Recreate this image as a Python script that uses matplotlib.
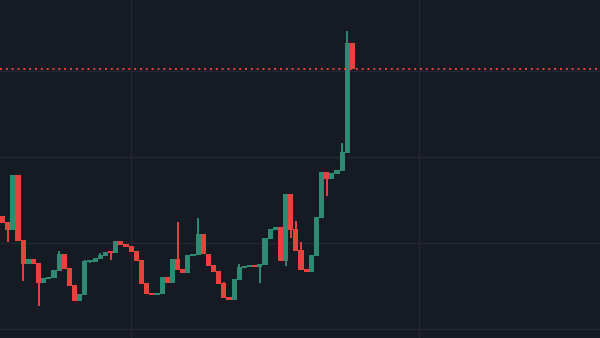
import matplotlib
matplotlib.use("Agg")
import matplotlib.pyplot as plt
import numpy as np

opens = [23.14, 22.44, 21.51, 27.91, 20.35, 17.56, 18.14, 17.67, 15.35, 15.81,
         15.93, 16.74, 18.72, 17.09, 15.12, 13.26, 13.95, 17.79, 17.79, 18.14,
         18.49, 18.95, 18.84, 20.23, 19.88, 19.65, 19.07, 18.02, 15.35, 14.19,
         13.95, 14.07, 16.05, 15.35, 18.14, 16.98, 16.51, 18.49, 18.60, 21.05,
         18.72, 17.44, 16.74, 15.35, 13.72, 13.37, 15.70, 17.09, 17.21, 17.44,
         17.21, 17.44, 20.47, 21.51, 21.86, 17.91, 25.70, 21.63, 19.19, 16.98,
         16.63, 18.49, 22.91, 28.26, 27.44, 28.02, 28.37, 30.47, 43.26]
closes = [22.33, 21.51, 27.91, 20.23, 17.56, 18.14, 17.56, 15.35, 15.93, 16.05,
          16.86, 18.72, 16.98, 15.00, 13.26, 14.07, 17.91, 17.91, 18.26, 18.60,
          18.95, 18.84, 20.23, 19.77, 19.53, 18.95, 17.91, 15.23, 14.07, 13.95,
          14.19, 16.05, 15.35, 18.14, 16.86, 16.51, 18.60, 18.72, 21.05, 18.72,
          17.33, 16.63, 15.23, 13.60, 13.37, 15.81, 17.21, 17.33, 17.44, 17.21,
          17.56, 20.58, 21.63, 21.86, 17.91, 25.70, 21.51, 19.07, 16.86, 16.63,
          18.60, 23.02, 28.26, 27.44, 28.14, 28.49, 30.58, 43.26, 40.23]
highs = [23.14, 22.44, 27.91, 27.91, 20.35, 18.14, 18.14, 17.67, 15.93, 16.05,
         16.86, 19.07, 18.72, 17.09, 15.12, 14.07, 18.02, 18.02, 18.26, 18.84,
         18.95, 19.07, 20.23, 20.23, 19.88, 19.65, 19.07, 18.02, 15.35, 14.19,
         14.19, 16.05, 16.05, 18.14, 22.44, 16.98, 18.60, 18.72, 22.91, 21.05,
         18.72, 17.44, 16.74, 15.47, 13.72, 15.81, 17.56, 17.33, 17.44, 17.44,
         17.56, 20.58, 21.63, 21.86, 21.86, 25.70, 25.70, 22.56, 20.12, 16.98,
         18.60, 23.02, 28.26, 28.26, 28.14, 28.49, 31.63, 44.65, 43.26]
lows = [22.33, 20.12, 21.51, 20.23, 15.58, 17.56, 17.56, 12.67, 15.35, 15.81,
        15.93, 16.74, 16.98, 15.00, 13.26, 13.26, 13.95, 17.67, 17.79, 18.14,
        18.49, 18.02, 18.84, 19.77, 19.53, 18.95, 17.91, 15.23, 14.07, 13.95,
        13.95, 14.07, 15.35, 15.35, 16.86, 16.51, 16.51, 18.49, 18.60, 18.72,
        17.33, 16.63, 15.23, 13.60, 13.37, 13.37, 15.70, 17.09, 17.21, 17.21,
        15.35, 17.44, 20.47, 21.51, 17.91, 17.33, 20.58, 19.07, 16.86, 16.63,
        16.63, 18.49, 22.91, 25.47, 27.44, 28.02, 28.37, 30.47, 40.23]

grid_prices = [10, 20, 30, 40]
grid_bars = [25, 81]

BG = "#161a23"
UP = "#2e8a73"
DOWN = "#e8423f"
GRID = "#232632"

fig = plt.figure(figsize=(6.0, 3.38), dpi=100, facecolor=BG)
ax = fig.add_axes([0, 0, 1, 1])
ax.set_facecolor(BG)

x = np.arange(len(opens))
o = np.array(opens); c = np.array(closes); h = np.array(highs); l = np.array(lows)
up = c >= o
colors = np.where(up, UP, DOWN)

for g in grid_prices:
    ax.axhline(g, color=GRID, lw=1.0, zorder=0)
for g in grid_bars:
    ax.axvline(g, color=GRID, lw=1.0, zorder=0)

ax.vlines(x, l, h, colors=colors, lw=1.4, zorder=2)
body_bottom = np.minimum(o, c)
body_h = np.maximum(np.abs(c - o), 0.18)
ax.bar(x, body_h, bottom=body_bottom, width=1.0, color=colors, linewidth=0, zorder=3)

ax.axhline(closes[-1], color=DOWN, lw=1.4, ls=(0, (1, 2)), zorder=4)

ax.set_xlim(-0.5, 116.1)
ax.set_ylim(8.95, 48.26)
ax.axis("off")

fig.savefig("out.png", dpi=100, facecolor=BG)
